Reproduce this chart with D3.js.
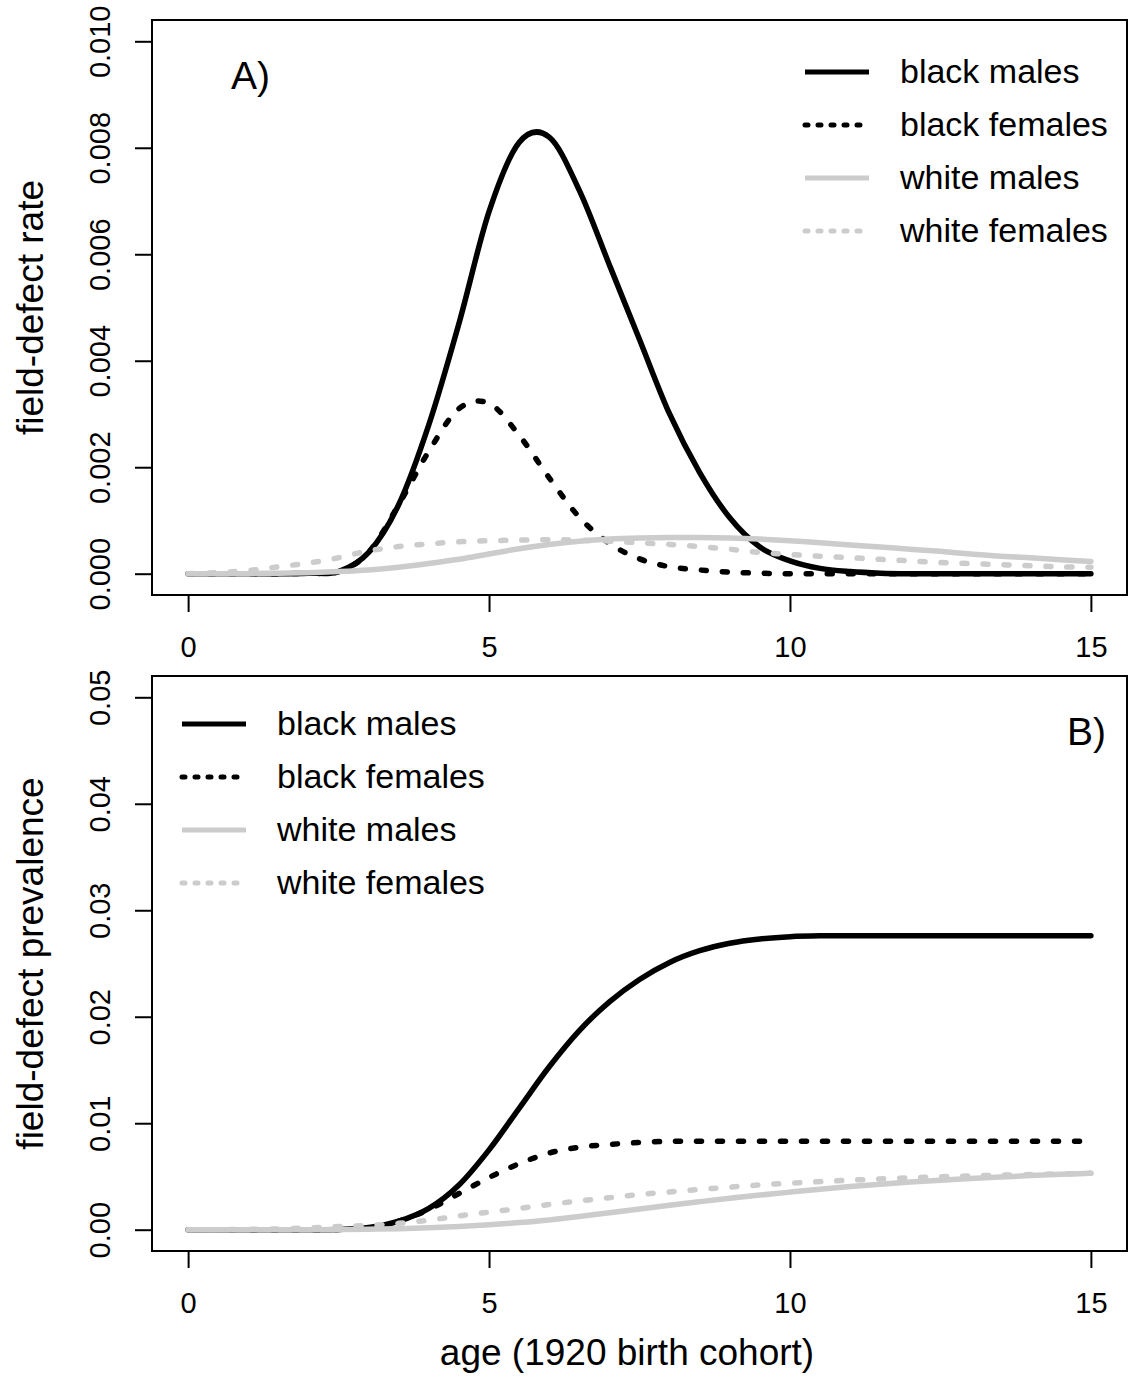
<!DOCTYPE html>
<html>
<head>
<meta charset="utf-8">
<script src="https://cdn.jsdelivr.net/npm/d3@7"></script>
<style>
  body { margin: 0; background: #fff; }
  text { font-family: "Liberation Sans", Arial, Helvetica, sans-serif; fill: #000; }
</style>
</head>
<body>
<div id="graph"></div>
<script>
// field-defect rate (A) and prevalence (B), 1920 birth cohort

let ages = [0, 0.5, 1, 1.5, 2, 2.5, 3, 3.5, 4, 4.5, 5, 5.5, 6, 6.5, 7, 7.5,
            8, 8.5, 9, 9.5, 10, 10.5, 11, 11.5, 12, 12.5, 13, 13.5, 14, 14.5, 15];

let seriesNames = ["black males", "black females", "white males", "white females"];

// panel A: rates
let bmRate = [0, 0, 0, 0, 0.00001, 0.00004, 0.0004, 0.0013, 0.0028, 0.0047,
              0.0068, 0.0081, 0.0082, 0.0072, 0.0058, 0.0044, 0.0030, 0.0019, 0.00105, 0.0005,
              0.00024, 0.0001, 0.00004, 0.00001, 0, 0, 0, 0, 0, 0, 0];
let bfRate = [0, 0, 0, 0, 0.00001, 0.00004, 0.0004, 0.0013, 0.0023, 0.0031,
              0.0032, 0.0026, 0.0018, 0.00106, 0.00057, 0.00028, 0.00013, 0.00007, 0.00003, 0.00001,
              0, 0, 0, 0, 0, 0, 0, 0, 0, 0, 0];
let wmRate = [0, 0, 0, 0.00001, 0.00002, 0.00004, 0.00007, 0.00012, 0.00019, 0.00027,
              0.00037, 0.00047, 0.00055, 0.00061, 0.00065, 0.00067, 0.00068, 0.00068, 0.00067, 0.00065,
              0.00062, 0.00058, 0.00054, 0.0005, 0.00046, 0.00042, 0.00037, 0.00033, 0.0003, 0.00026, 0.00023];
let wfRate = [0, 0.00002, 0.00006, 0.00013, 0.0002, 0.0003, 0.00043, 0.00051, 0.00056, 0.0006,
              0.00062, 0.00063, 0.00064, 0.00063, 0.00061, 0.00058, 0.00055, 0.00051, 0.00046, 0.0004,
              0.00036, 0.00033, 0.0003, 0.00027, 0.00024, 0.00021, 0.00019, 0.00017, 0.00015, 0.00013, 0.00012];

// panel B: prevalence
let bmPrev = [0, 0, 0, 0, 0, 0.00003, 0.0002, 0.0008, 0.002, 0.0042,
              0.0075, 0.0114, 0.0153, 0.0187, 0.0214, 0.0235, 0.0251, 0.0262, 0.0269, 0.0273,
              0.02752, 0.0276, 0.0276, 0.0276, 0.0276, 0.0276, 0.0276, 0.0276, 0.0276, 0.0276, 0.0276];
let bfPrev = [0, 0, 0, 0, 0, 0.00003, 0.0002, 0.0008, 0.0019, 0.0034,
              0.0049, 0.0062, 0.0072, 0.00775, 0.008, 0.0082, 0.0083, 0.0083, 0.0083, 0.0083,
              0.0083, 0.0083, 0.0083, 0.0083, 0.0083, 0.0083, 0.0083, 0.0083, 0.0083, 0.0083, 0.0083];
let wmPrev = [0, 0, 0, 0, 0, 0.00002, 0.00005, 0.0001, 0.00018, 0.0003,
              0.00046, 0.00067, 0.00092, 0.00124, 0.0016, 0.00195, 0.0023, 0.00263, 0.00295, 0.00325,
              0.00353, 0.0038, 0.00405, 0.00427, 0.00447, 0.00465, 0.00481, 0.00495, 0.00508, 0.0052, 0.0053];
let wfPrev = [0, 0, 0.00003, 0.00008, 0.00016, 0.0003, 0.0004, 0.0006, 0.0009, 0.0013,
              0.00165, 0.002, 0.00237, 0.0027, 0.003, 0.0033, 0.00355, 0.00378, 0.004, 0.0042,
              0.00437, 0.00452, 0.00465, 0.00477, 0.00488, 0.00497, 0.00505, 0.00512, 0.00518, 0.00524, 0.0053];

let xTicks = [0, 5, 10, 15];
let yTicksA = [0, 0.002, 0.004, 0.006, 0.008, 0.010];
let yTicksB = [0, 0.01, 0.02, 0.03, 0.04, 0.05];

// line styles per series
let styles = [
  {color: "#000", dash: null, legendDash: null},
  {color: "#000", dash: "5,16", legendDash: "3,10"},
  {color: "#cccccc", dash: null, legendDash: null},
  {color: "#cccccc", dash: "5,16", legendDash: "3,10"}
];

let svgWidth = 1134;
let svgHeight = 1393;

let svg = d3.select("#graph")
  .append("svg")
  .attr("width", svgWidth)
  .attr("height", svgHeight);

svg.append("rect")
  .attr("width", svgWidth)
  .attr("height", svgHeight)
  .attr("fill", "#fff");

let left = 152, right = 1127;

function drawPanel(opts) {
  let xScale = d3.scaleLinear().domain([-0.6, 15.6]).range([left, right]);
  let yScale = d3.scaleLinear().domain(opts.yDomain).range([opts.bottom, opts.top]);

  let g = svg.append("g");

  // lines
  let line = d3.line()
    .x(d => xScale(d.age))
    .y(d => yScale(d.v))
    .curve(d3.curveCatmullRom.alpha(0));

  opts.series.forEach(function(vals, i) {
    let pts = ages.map((a, j) => ({age: a, v: vals[j]}));
    g.append("path")
      .datum(pts)
      .attr("d", line)
      .attr("fill", "none")
      .attr("stroke", styles[i].color)
      .attr("stroke-width", 5.5)
      .attr("stroke-linecap", "round")
      .attr("stroke-linejoin", "round")
      .attr("stroke-dasharray", styles[i].dash);
  });

  // box
  g.append("rect")
    .attr("x", left)
    .attr("y", opts.top)
    .attr("width", right - left)
    .attr("height", opts.bottom - opts.top)
    .attr("fill", "none")
    .attr("stroke", "#000")
    .attr("stroke-width", 2);

  // x axis
  let xAxis = d3.axisBottom(xScale).tickValues(xTicks).tickSize(17).tickFormat(d3.format("d"));
  let xg = g.append("g")
    .attr("transform", `translate(0, ${opts.bottom})`)
    .call(xAxis);
  xg.select(".domain").remove();
  xg.selectAll("line").attr("stroke-width", 2);
  xg.selectAll("text")
    .attr("y", 62)
    .attr("dy", 0)
    .style("font-size", "29px")
    .style("font-family", "Liberation Sans, Arial, sans-serif");

  // y axis
  let yAxis = d3.axisLeft(yScale).tickValues(opts.yTicks).tickSize(17).tickFormat(d3.format(opts.fmt));
  let yg = g.append("g")
    .attr("transform", `translate(${left}, 0)`)
    .call(yAxis);
  yg.select(".domain").remove();
  yg.selectAll("line").attr("stroke-width", 2);
  yg.selectAll("text")
    .attr("x", 0)
    .attr("dy", 0)
    .attr("transform", "translate(-42, 0) rotate(-90)")
    .attr("text-anchor", "middle")
    .style("font-size", "29px")
    .style("font-family", "Liberation Sans, Arial, sans-serif");

  // y title
  g.append("text")
    .attr("transform", `translate(43, ${(opts.top + opts.bottom) / 2}) rotate(-90)`)
    .attr("text-anchor", "middle")
    .style("font-size", "37px")
    .text(opts.yLabel);

  // panel letter
  g.append("text")
    .attr("x", opts.letterX)
    .attr("y", opts.letterY)
    .attr("text-anchor", opts.letterAnchor)
    .style("font-size", "39px")
    .text(opts.letter);

  // legend
  let leg = g.selectAll(".legend")
    .data(seriesNames)
    .enter()
    .append("g")
    .attr("transform", (d, i) => `translate(${opts.legX}, ${opts.legY + i * 53})`);
  leg.append("line")
    .attr("x1", 0)
    .attr("x2", 64)
    .attr("stroke", (d, i) => styles[i].color)
    .attr("stroke-width", 5)
    .attr("stroke-linecap", (d, i) => styles[i].legendDash ? "round" : "butt")
    .attr("stroke-dasharray", (d, i) => styles[i].legendDash);
  leg.append("text")
    .attr("x", 95)
    .attr("y", 11)
    .style("font-size", "34px")
    .text(d => d);
}

drawPanel({
  top: 20, bottom: 595,
  yDomain: [-0.0004, 0.0104],
  yTicks: yTicksA, fmt: ".3f",
  series: [bmRate, bfRate, wmRate, wfRate],
  yLabel: "field-defect rate",
  letter: "A)", letterX: 231, letterY: 89, letterAnchor: "start",
  legX: 805, legY: 72
});

drawPanel({
  top: 676, bottom: 1251,
  yDomain: [-0.002, 0.052],
  yTicks: yTicksB, fmt: ".2f",
  series: [bmPrev, bfPrev, wmPrev, wfPrev],
  yLabel: "field-defect prevalence",
  letter: "B)", letterX: 1106, letterY: 745, letterAnchor: "end",
  legX: 182, legY: 724
});

// shared x title
svg.append("text")
  .attr("x", 627)
  .attr("y", 1365)
  .attr("text-anchor", "middle")
  .style("font-size", "37px")
  .text("age (1920 birth cohort)");
</script>
</body>
</html>
